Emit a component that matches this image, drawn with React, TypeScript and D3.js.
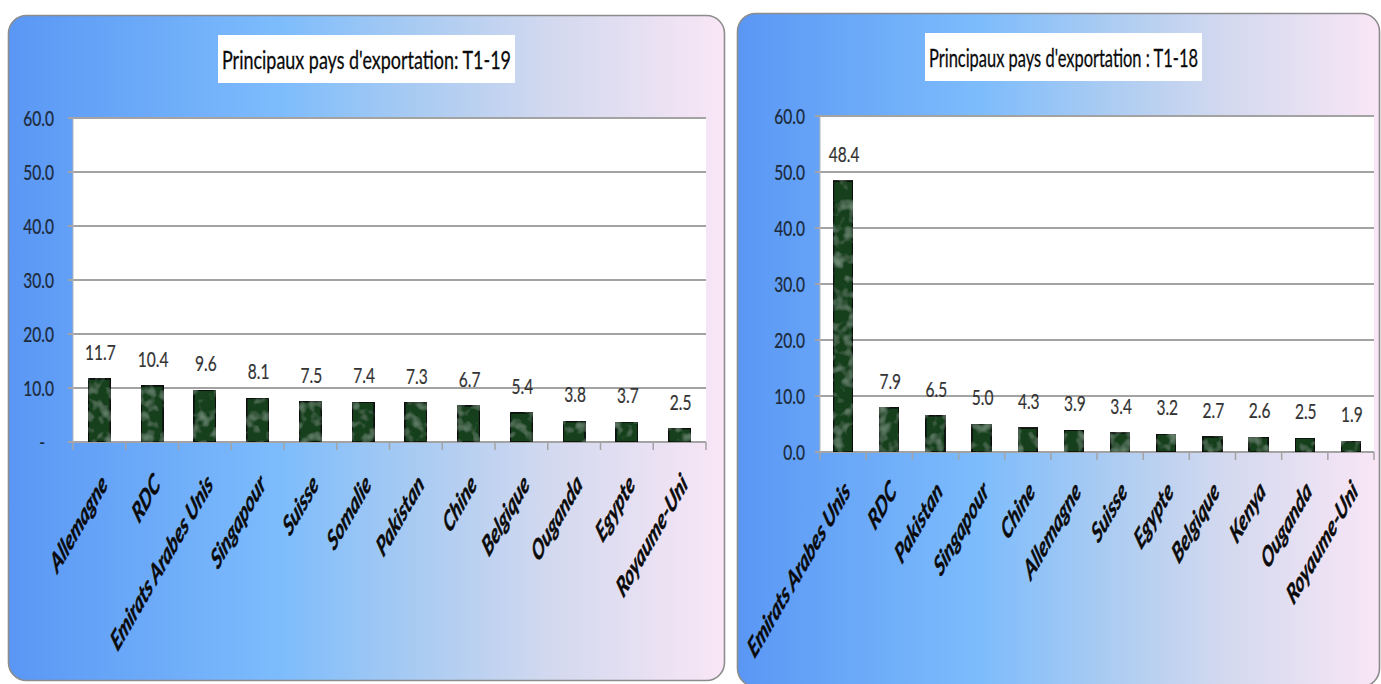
import React from "react";
import * as d3 from "d3";

// ---- Data ----
const categoriesT119 = ["Allemagne", "RDC", "Emirats Arabes Unis", "Singapour", "Suisse", "Somalie", "Pakistan", "Chine", "Belgique", "Ouganda", "Egypte", "Royaume-Uni"];
const valuesT119 = [11.7, 10.4, 9.6, 8.1, 7.5, 7.4, 7.3, 6.7, 5.4, 3.8, 3.7, 2.5];
const categoriesT118 = ["Emirats Arabes Unis", "RDC", "Pakistan", "Singapour", "Chine", "Allemagne", "Suisse", "Egypte", "Belgique", "Kenya", "Ouganda", "Royaume-Uni"];
const valuesT118 = [48.4, 7.9, 6.5, 5.0, 4.3, 3.9, 3.4, 3.2, 2.7, 2.6, 2.5, 1.9];
const yTickValues = [0, 10, 20, 30, 40, 50, 60];
const titleT119 = "Principaux pays d'exportation: T1-19";
const titleT118 = "Principaux pays d'exportation : T1-18";

const FONT = "Lato, 'Open Sans', sans-serif";
const SX = 0.74; // horizontal squeeze of text
const SXR = 0.58; // squeeze for rotated labels

type PanelProps = {
  id: string;
  cats: string[];
  vals: number[];
  title: string;
  titleLen: number;
  panel: { x: number; y: number; w: number; h: number };
  plot: { x0: number; x1: number; top: number; bottom: number };
  titleBox: { x: number; y: number; w: number; h: number; baseline: number };
  labelRight: number;
  zeroDash: boolean;
  lab: { dx: number; dy: number };
};

function Panel(p: PanelProps) {
  const x = d3.scaleBand<string>().domain(p.cats).range([p.plot.x0, p.plot.x1]).padding(0);
  const y = d3.scaleLinear().domain([0, 60]).range([p.plot.bottom, p.plot.top]);
  const bw = x.bandwidth() * 0.42;
  const tickXs = p.cats.map((c) => x(c) as number).concat([p.plot.x1]);
  return (
    <g>
      <rect x={p.panel.x} y={p.panel.y} width={p.panel.w} height={p.panel.h} rx={18} ry={18}
        fill="url(#panelGrad)" stroke="#8c8c8c" strokeWidth={1.6} />
      <rect x={p.titleBox.x} y={p.titleBox.y} width={p.titleBox.w} height={p.titleBox.h} fill="#ffffff" />
      <text x={p.titleBox.x + p.titleBox.w / 2} y={p.titleBox.baseline} textAnchor="middle"
        fontFamily={FONT} fontSize={25} fill="#0a0a0a" stroke="#0a0a0a" strokeWidth={0.3}
        textLength={p.titleLen} lengthAdjust="spacingAndGlyphs">
        {p.title}
      </text>
      <rect x={p.plot.x0} y={p.plot.top} width={p.plot.x1 - p.plot.x0} height={p.plot.bottom - p.plot.top} fill="#ffffff" />
      {yTickValues.map((v) => (
        <line key={"g" + v} x1={p.plot.x0 - 5} x2={p.plot.x1} y1={y(v)} y2={y(v)} stroke="#a3a3a3" strokeWidth={1.8} />
      ))}
      <line x1={p.plot.x0} x2={p.plot.x0} y1={p.plot.top} y2={p.plot.bottom} stroke="#b5b5b5" strokeWidth={1} />
      {tickXs.map((tx, i) => (
        <line key={"t" + i} x1={tx} x2={tx} y1={p.plot.bottom} y2={p.plot.bottom + 8} stroke="#a3a3a3" strokeWidth={1.5} />
      ))}
      {yTickValues.map((v) => {
        const label = v === 0 && p.zeroDash ? "-" : v.toFixed(1);
        const lx = v === 0 && p.zeroDash ? p.labelRight - 9 : p.labelRight;
        return (
          <text key={"yl" + v} transform={`translate(${lx},${y(v) + 7.5}) scale(${SX},1)`} textAnchor="end"
            fontFamily={FONT} fontSize={21} fill="#1c2a3a" stroke="#1c2a3a" strokeWidth={0.25}>
            {label}
          </text>
        );
      })}
      {p.cats.map((c, i) => {
        const cx = (x(c) as number) + x.bandwidth() / 2;
        return (
          <g key={"b" + i}>
            <rect x={cx - bw / 2} y={y(p.vals[i])} width={bw} height={p.plot.bottom - y(p.vals[i])}
              fill="#19401f" stroke="#0d0d0d" strokeWidth={1.7} filter="url(#mottle)" />
            <text transform={`translate(${cx + 1},${y(p.vals[i]) - 19}) scale(${SX},1)`} textAnchor="middle"
              fontFamily={FONT} fontSize={21} fill="#333" stroke="#333" strokeWidth={0.2}>
              {p.vals[i].toFixed(1)}
            </text>
            <text transform={`translate(${cx + p.lab.dx},${p.plot.bottom + p.lab.dy}) scale(${SXR},1) rotate(-45)`}
              textAnchor="end" fontFamily={FONT} fontSize={28} fontWeight="bold" fontStyle="italic"
              fill="#0a0a0a" stroke="#0a0a0a" strokeWidth={0.6}>
              {c}
            </text>
          </g>
        );
      })}
    </g>
  );
}

export default function App() {
  return (
    <svg width={1381} height={684} style={{ position: "absolute", left: 0, top: 0, background: "#fff" }}>
      <defs>
        <linearGradient id="panelGrad" x1="0" y1="0" x2="1" y2="0">
          <stop offset="0%" stopColor="#5a97f5" />
          <stop offset="38%" stopColor="#7dbcfc" />
          <stop offset="57%" stopColor="#a9cbf2" />
          <stop offset="76%" stopColor="#d3d9ef" />
          <stop offset="100%" stopColor="#f9e6f6" />
        </linearGradient>
        <filter id="mottle" x="0" y="0" width="100%" height="100%">
          <feTurbulence type="fractalNoise" baseFrequency="0.09" numOctaves={2} seed={5} result="n" />
          <feColorMatrix in="n" type="matrix"
            values="0 0 0 0 0.32  0 0 0 0 0.50  0 0 0 0 0.36  1.1 0 0 0 -0.52" result="c" />
          <feComposite in="c" in2="SourceGraphic" operator="in" result="spots" />
          <feMerge>
            <feMergeNode in="SourceGraphic" />
            <feMergeNode in="spots" />
          </feMerge>
        </filter>
      </defs>
      <Panel id="l" cats={categoriesT119} vals={valuesT119} title={titleT119} titleLen={289}
        panel={{ x: 8.5, y: 15.5, w: 716, h: 665 }}
        plot={{ x0: 73, x1: 706, top: 118, bottom: 442 }}
        titleBox={{ x: 218, y: 35, w: 297, h: 48, baseline: 69 }}
        labelRight={54} zeroDash={true} lab={{ dx: 9, dy: 44 }} />
      <Panel id="r" cats={categoriesT118} vals={valuesT118} title={titleT118} titleLen={269}
        panel={{ x: 737.5, y: 13.5, w: 642, h: 673 }}
        plot={{ x0: 820, x1: 1374, top: 116, bottom: 452 }}
        titleBox={{ x: 925, y: 33, w: 277, h: 48, baseline: 67 }}
        labelRight={805} zeroDash={false} lab={{ dx: 8, dy: 41 }} />
    </svg>
  );
}
